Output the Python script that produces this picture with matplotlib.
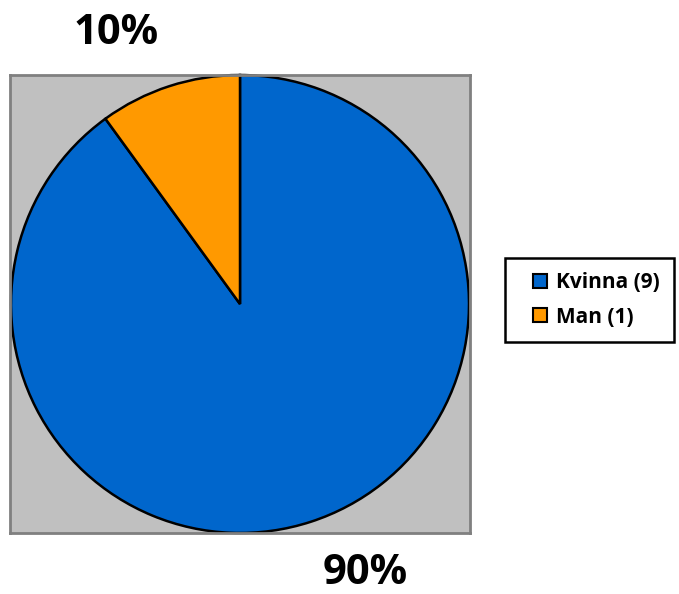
import matplotlib.pyplot as plt
from matplotlib.lines import Line2D

labels = ['Kvinna (9)', 'Man (1)']
values = [9, 1]
pcts = ['90%', '10%']
colors = ['#0066CC', '#FF9900']

plt.rcParams['font.family'] = ['Open Sans', 'DejaVu Sans']

W, H = 679, 594
fig = plt.figure(figsize=(W / 100, H / 100), dpi=100)

# grey plot area
ax = fig.add_axes([10 / W, (H - 533) / H, 460 / W, 458 / H])

wedges, _ = ax.pie(values, colors=colors, startangle=90, counterclock=False,
                   radius=1.0, wedgeprops=dict(edgecolor='black', linewidth=1.8))
ax.set_xlim(-460 / 458, 460 / 458)
ax.set_ylim(-1.0, 1.0)
ax.set_aspect('auto')
ax.set_xticks([])
ax.set_yticks([])
ax.set_frame_on(True)
ax.set_facecolor('#C0C0C0')
for s in ax.spines.values():
    s.set_visible(True)
    s.set_color('#808080')
    s.set_linewidth(2)

# percentage labels
fig.text(116 / W, 1 - 33 / H, pcts[1], ha='center', va='center',
         fontsize=30, fontweight='bold')
fig.text(365 / W, 1 - 574 / H, pcts[0], ha='center', va='center',
         fontsize=30, fontweight='bold')

# legend with square markers
handles = [Line2D([], [], linestyle='none', marker='s', markersize=10,
                  markerfacecolor=c, markeredgecolor='black', markeredgewidth=1.5)
           for c in colors]
leg = fig.legend(handles, labels, loc='center left',
                 bbox_to_anchor=(505 / W, 1 - 300 / H), borderaxespad=0,
                 prop={'weight': 'bold', 'size': 15},
                 fancybox=False, edgecolor='black', framealpha=1,
                 handlelength=2.0, handletextpad=-0.25,
                 borderpad=0.7, labelspacing=0.65)
leg.get_frame().set_linewidth(1.8)

fig.savefig('out.png', dpi=100)
